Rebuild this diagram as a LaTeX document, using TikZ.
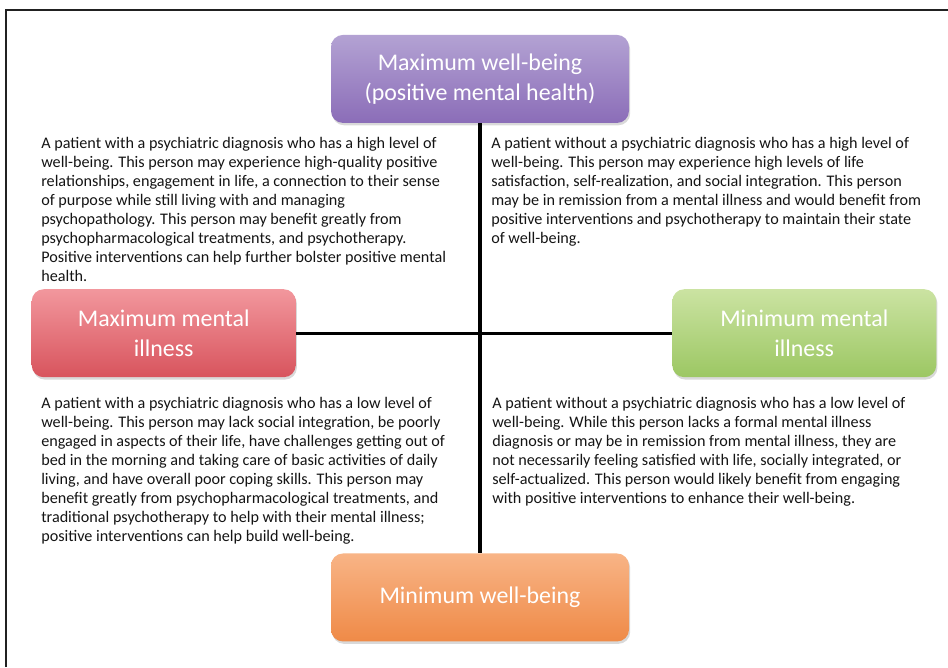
\documentclass[tikz,border=0pt]{standalone}
\usepackage{fontspec}
\setmainfont{Carlito}
\usetikzlibrary{positioning,shadows}
\definecolor{framecolor}{rgb}{0.13,0.13,0.13}
\definecolor{notecolor}{rgb}{0.08,0.08,0.08}
\definecolor{purpletop}{HTML}{B3A2D3}
\definecolor{purplebottom}{HTML}{8B6DB8}
\definecolor{redtop}{HTML}{F2979D}
\definecolor{redbottom}{HTML}{D8545D}
\definecolor{greentop}{HTML}{CBE3A2}
\definecolor{greenbottom}{HTML}{9CC763}
\definecolor{orangetop}{HTML}{F8B486}
\definecolor{orangebottom}{HTML}{EF8A47}
\tikzset{
	pole/.style={
		rectangle,
		rounded corners=3mm,
		minimum height=2.2cm,
		text=white,
		align=center,
		font=\fontsize{17}{21}\selectfont,
		drop shadow={shadow xshift=0.3mm,shadow yshift=-0.6mm,opacity=0.3}
	},
	widepole/.style={
		pole,
		minimum width=7.45cm
	},
	sidepole/.style={
		pole,
		minimum width=6.6cm
	},
	axis/.style={
		draw=black,
		line width=2.2pt
	},
	note/.style={
		anchor=north west,
		align=left,
		inner sep=0pt,
		text=notecolor,
		font=\fontsize{11.5}{13.5}\selectfont
	},
}

\begin{document}
\begin{tikzpicture}
\useasboundingbox (0,0) rectangle (23.7,-16.675);
% frame, open on the right and at the bottom
\draw[framecolor,line width=2pt] (0.15,-16.675) -- (0.15,-0.25) -- (23.7,-0.25);

\coordinate (mid) at (12,-8.33);
\node[widepole,top color=purpletop,bottom color=purplebottom] (maxwb) [above=5.25cm of mid] {Maximum well-being\\(positive mental health)};
\node[sidepole,top color=redtop,bottom color=redbottom] (maxill) [left=4.6cm of mid] {Maximum mental\\illness};
\node[sidepole,top color=greentop,bottom color=greenbottom] (minill) [right=4.8cm of mid] {Minimum mental\\illness};
\node[widepole,top color=orangetop,bottom color=orangebottom] (minwb) [below=5.5cm of mid] {Minimum well-being};

\draw[axis] (maxwb) -- (minwb);
\draw[axis] (maxill) -- (minill);

% the four quadrants
\node[note] (ulnote) at (1.025,-3.42) {A patient with a psychiatric diagnosis who has a high level of\\
well-being. This person may experience high-quality positive\\
relationships, engagement in life, a connection to their sense\\
of purpose while still living with and managing\\
psychopathology. This person may benefit greatly from\\
psychopharmacological treatments, and psychotherapy.\\
Positive interventions can help further bolster positive mental\\
health.};
\node[note] (urnote) at (12.275,-3.42) {A patient without a psychiatric diagnosis who has a high level of\\
well-being. This person may experience high levels of life\\
satisfaction, self-realization, and social integration. This person\\
may be in remission from a mental illness and would benefit from\\
positive interventions and psychotherapy to maintain their state\\
of well-being.};
\node[note] (llnote) at (1.025,-9.92) {A patient with a psychiatric diagnosis who has a low level of\\
well-being. This person may lack social integration, be poorly\\
engaged in aspects of their life, have challenges getting out of\\
bed in the morning and taking care of basic activities of daily\\
living, and have overall poor coping skills. This person may\\
benefit greatly from psychopharmacological treatments, and\\
traditional psychotherapy to help with their mental illness;\\
positive interventions can help build well-being.};
\node[note] (lrnote) at (12.3,-9.92) {A patient without a psychiatric diagnosis who has a low level of\\
well-being. While this person lacks a formal mental illness\\
diagnosis or may be in remission from mental illness, they are\\
not necessarily feeling satisfied with life, socially integrated, or\\
self-actualized. This person would likely benefit from engaging\\
with positive interventions to enhance their well-being.};
\end{tikzpicture}
\end{document}
